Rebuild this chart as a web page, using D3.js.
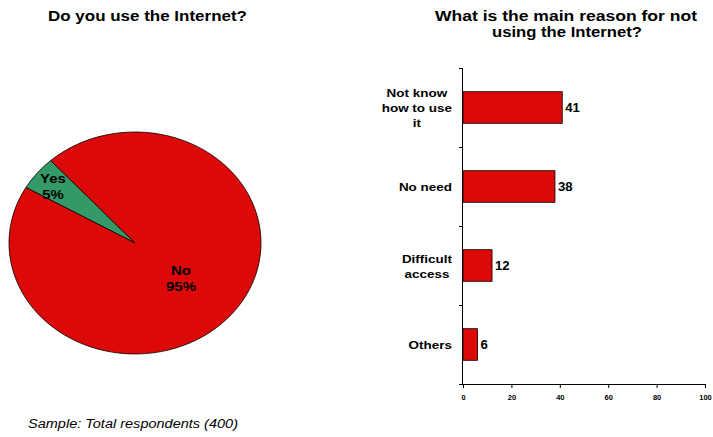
<!DOCTYPE html>
<html>
<head>
<meta charset="utf-8">
<script src="https://cdn.jsdelivr.net/npm/d3@7"></script>
<style>
  html, body { margin: 0; padding: 0; background: #fff; }
  svg { display: block; font-family: "Liberation Sans", Arial, sans-serif; }
</style>
</head>
<body>
<svg id="chart" width="713" height="437"></svg>
<script>
// Pie: "Do you use the Internet?"
const pieLabels = ["Yes", "No"];
const pieValues = [5, 95];
const pieColors = ["#339966", "#dd0808"];

// Bars: main reason for not using the Internet
const reasonCategories = [["Not know", "how to use", "it"], ["No need"], ["Difficult", "access"], ["Others"]];
const reasonValues = [41, 38, 12, 6];
const xTicks = [0, 20, 40, 60, 80, 100];

const svg = d3.select("#chart");

// Widen glyphs horizontally by a factor (the chart's lettering is set wide).
function widen(sel, factor) {
  sel.each(function () {
    const w = this.getComputedTextLength();
    d3.select(this).attr("textLength", w * factor).attr("lengthAdjust", "spacingAndGlyphs");
  });
  return sel;
}
const WIDE = 1.17;

// ---------- titles ----------
const t1 = svg.append("text")
  .attr("x", 147.5).attr("y", 21)
  .attr("text-anchor", "middle")
  .style("font-weight", "bold").style("font-size", "14.5px")
  .text("Do you use the Internet?");
t1.attr("textLength", 199).attr("lengthAdjust", "spacingAndGlyphs");

const t2 = svg.append("text")
  .attr("text-anchor", "middle")
  .style("font-weight", "bold").style("font-size", "14.5px");
t2.append("tspan").attr("x", 566).attr("y", 21).text("What is the main reason for not")
  .attr("textLength", 262).attr("lengthAdjust", "spacingAndGlyphs");
t2.append("tspan").attr("x", 567).attr("y", 37).text("using the Internet?")
  .attr("textLength", 150).attr("lengthAdjust", "spacingAndGlyphs");

// ---------- pie (drawn as a flattened ellipse) ----------
const cx = 135, cy = 243, rx = 126, ry = 111;
const pie = d3.pie().sort(null).value(d => d)
  .startAngle(-60 * Math.PI / 180)
  .endAngle(300 * Math.PI / 180);
const arcs = pie(pieValues);
const arc = d3.arc().innerRadius(0).outerRadius(rx);

const pg = svg.append("g")
  .attr("transform", `translate(${cx},${cy}) scale(1,${ry / rx})`);
pg.selectAll("path").data(arcs).join("path")
  .attr("d", arc)
  .attr("fill", (d, i) => pieColors[i])
  .attr("stroke", "#000")
  .attr("stroke-width", 0.8)
  .attr("vector-effect", "non-scaling-stroke");

// slice labels
const labelPos = [[53, 183], [181, 275]];
arcs.forEach((d, i) => {
  const t = svg.append("text")
    .attr("text-anchor", "middle")
    .style("font-weight", "bold").style("font-size", "13px")
    .attr("fill", "#000");
  const a = t.append("tspan").attr("x", labelPos[i][0]).attr("y", labelPos[i][1]).text(pieLabels[i]);
  const b = t.append("tspan").attr("x", labelPos[i][0]).attr("y", labelPos[i][1] + 16)
    .text(pieValues[i] + "%");
  widen(a, 1.15); widen(b, 1.15);
});

// ---------- bar chart ----------
const x0 = 463, x1 = 705, yTop = 68, yBot = 384;
const x = d3.scaleLinear().domain([0, 100]).range([x0, x1]);
const y = d3.scaleBand().domain(d3.range(reasonValues.length))
  .range([yTop, yBot]).paddingInner(0.6).paddingOuter(0.3);

const bg = svg.append("g");
bg.selectAll("rect").data(reasonValues).join("rect")
  .attr("x", x(0))
  .attr("y", (d, i) => y(i))
  .attr("width", d => x(d) - x(0))
  .attr("height", y.bandwidth())
  .attr("fill", "#dd0808")
  .attr("stroke", "#000")
  .attr("stroke-width", 0.8);

// value labels
const vals = bg.selectAll("text.val").data(reasonValues).join("text")
  .attr("class", "val")
  .attr("x", d => x(d) + 3)
  .attr("y", (d, i) => y(i) + y.bandwidth() / 2 + 4.5)
  .style("font-weight", "bold").style("font-size", "12px")
  .text(d => d);
widen(vals, 1.1);

// x axis
const xAxis = d3.axisBottom(x).tickValues(xTicks).tickSize(4).tickPadding(7);
const xg = svg.append("g").attr("transform", `translate(0,${yBot})`).call(xAxis);
xg.select(".domain").attr("d", `M${x0 - 4},0.5H${x1}`).attr("stroke", "#000");
xg.selectAll("text").style("font-size", "7.5px").style("font-weight", "bold")
  .style("font-family", "'Liberation Sans', Arial, sans-serif");

// y axis line with ticks at category boundaries
const boundaries = d3.range(reasonValues.length + 1).map(i => yTop + i * (yBot - yTop) / reasonValues.length);
const yg = svg.append("g");
yg.append("line")
  .attr("x1", x0 - 0.5).attr("x2", x0 - 0.5)
  .attr("y1", yTop).attr("y2", yBot)
  .attr("stroke", "#000");
yg.selectAll("line.tick").data(boundaries).join("line")
  .attr("class", "tick")
  .attr("x1", x0 - 4).attr("x2", x0)
  .attr("y1", d => Math.round(d) + 0.5).attr("y2", d => Math.round(d) + 0.5)
  .attr("stroke", "#000");

// category labels: each block right-aligned, lines centred within the block
const labelRight = 452;
reasonCategories.forEach((lines, i) => {
  const t = svg.append("text")
    .attr("text-anchor", "middle")
    .style("font-weight", "bold").style("font-size", "11.5px");
  const cyBand = y(i) + y.bandwidth() / 2;
  const lh = 15;
  const startY = cyBand - (lines.length - 1) * lh / 2 + 4.5;
  const spans = lines.map((s, k) => t.append("tspan").attr("y", startY + k * lh).text(s));
  const w = d3.max(spans, sp => sp.node().getComputedTextLength()) * WIDE;
  spans.forEach(sp => { widen(sp, WIDE); sp.attr("x", labelRight - w / 2); });
});

// footnote
svg.append("text")
  .attr("x", 28).attr("y", 428)
  .style("font-style", "italic").style("font-size", "12px")
  .attr("textLength", 210).attr("lengthAdjust", "spacingAndGlyphs")
  .text("Sample: Total respondents (400)");
</script>
</body>
</html>
